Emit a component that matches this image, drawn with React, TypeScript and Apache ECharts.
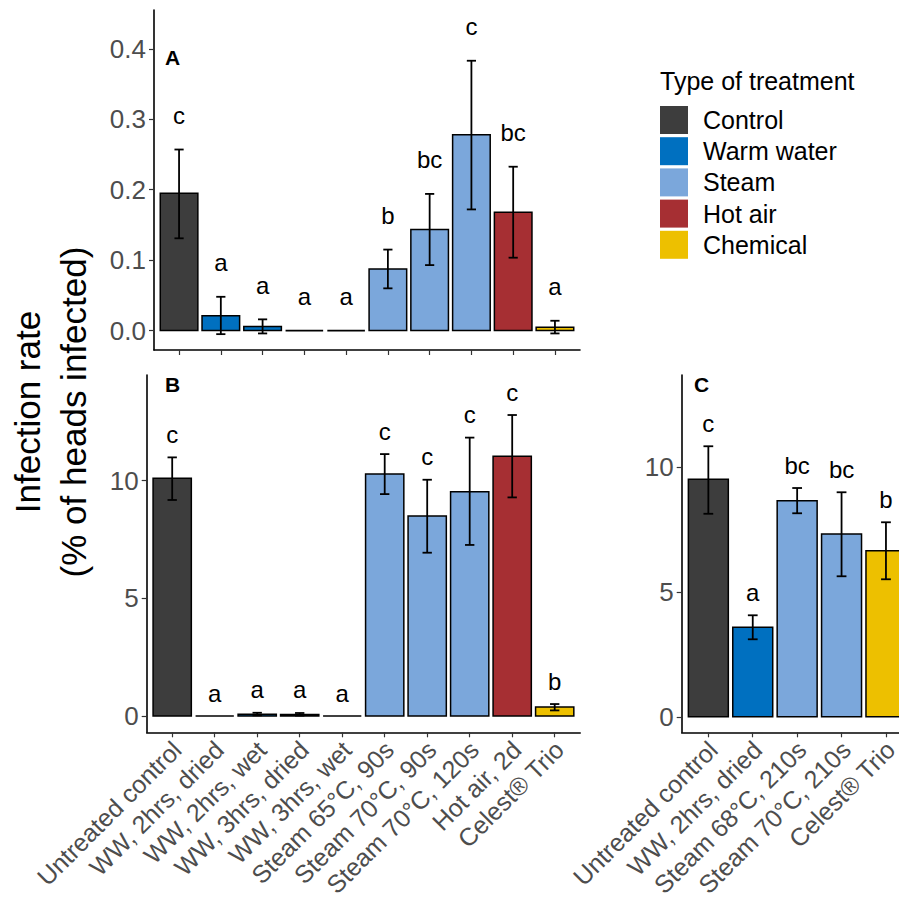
import React, { useEffect, useRef } from "react";
import * as echarts from "echarts";

// ---------- data ----------
const typeNames = ["Control", "Warm water", "Steam", "Hot air", "Chemical"];
const typeColors = ["#3d3d3d", "#0070c0", "#7ba7db", "#a62f33", "#edc000"];

const catsAB = [
  "Untreated control",
  "WW, 2hrs, dried",
  "WW, 2hrs, wet",
  "WW, 3hrs, dried",
  "WW, 3hrs, wet",
  "Steam 65°C, 90s",
  "Steam 70°C, 90s",
  "Steam 70°C, 120s",
  "Hot air, 2d",
  "Celest® Trio",
];
const typesAB = [0, 1, 1, 1, 1, 2, 2, 2, 3, 4];

const aValues = [0.195, 0.021, 0.006, 0, 0, 0.0875, 0.1435, 0.278, 0.168, 0.0047];
const aLower = [0.131, -0.005, -0.004, null, null, 0.06, 0.093, 0.172, 0.1035, -0.004];
const aUpper = [0.257, 0.048, 0.016, null, null, 0.115, 0.194, 0.383, 0.2326, 0.014];
const aLetters = ["c", "a", "a", "a", "a", "b", "bc", "c", "bc", "a"];

const bValues = [10.1, 0, 0.08, 0.07, 0, 10.28, 8.5, 9.53, 11.04, 0.38];
const bLower = [9.18, null, 0.03, 0.02, null, 9.43, 6.94, 7.27, 9.29, 0.24];
const bUpper = [10.99, null, 0.14, 0.13, null, 11.13, 10.04, 11.83, 12.79, 0.51];
const bLetters = ["c", "a", "a", "a", "a", "c", "c", "c", "c", "b"];

const catsC = [
  "Untreated control",
  "WW, 2hrs, dried",
  "Steam 68°C, 210s",
  "Steam 70°C, 210s",
  "Celest® Trio",
];
const typesC = [0, 1, 2, 2, 4];
const cValues = [9.5, 3.58, 8.64, 7.31, 6.64];
const cLower = [8.12, 3.1, 8.14, 5.62, 5.5];
const cUpper = [10.82, 4.06, 9.15, 8.98, 7.78];
const cLetters = ["c", "a", "bc", "bc", "b"];

const yTicksA = [0, 0.1, 0.2, 0.3, 0.4];
const yTicksBC = [0, 5, 10];

const FONT = '"Liberation Sans", Arial, Helvetica, sans-serif';

// ---------- helpers ----------
function barSeries(ax: number, values: number[], types: number[]) {
  return {
    type: "custom",
    xAxisIndex: ax,
    yAxisIndex: ax,
    data: values.map((v, i) => [i, v, types[i]]),
    renderItem: (params: any, api: any) => {
      const i = api.value(0);
      const v = api.value(1);
      const t = api.value(2);
      const p0 = api.coord([i - 0.45, 0]);
      const p1 = api.coord([i + 0.45, v]);
      const h = p0[1] - p1[1];
      if (h < 0.5) {
        return {
          type: "line",
          shape: { x1: p0[0], y1: p0[1], x2: p1[0], y2: p0[1] },
          style: { stroke: "#000", lineWidth: 1.6 },
        };
      }
      return {
        type: "rect",
        shape: { x: p0[0], y: p1[1], width: p1[0] - p0[0], height: h },
        style: { fill: typeColors[t], stroke: "#000", lineWidth: 1.5 },
      };
    },
  };
}

function errSeries(
  ax: number,
  values: number[],
  lower: (number | null)[],
  upper: (number | null)[],
  letters: string[],
  offset: number
) {
  return {
    type: "custom",
    xAxisIndex: ax,
    yAxisIndex: ax,
    data: values.map((v, i) => [
      i,
      lower[i] == null ? v : lower[i],
      upper[i] == null ? v : upper[i],
      lower[i] == null ? 0 : 1,
    ]),
    renderItem: (params: any, api: any) => {
      const i = api.value(0);
      const lo = api.value(1);
      const hi = api.value(2);
      const has = api.value(3);
      const top = api.coord([i, hi]);
      const bot = api.coord([i, lo]);
      const hw = api.size([0.11, 0])[0];
      const children: any[] = [];
      if (has) {
        const st = { stroke: "#000", lineWidth: 1.8 };
        children.push({ type: "line", shape: { x1: top[0], y1: top[1], x2: bot[0], y2: bot[1] }, style: st });
        children.push({ type: "line", shape: { x1: top[0] - hw, y1: top[1], x2: top[0] + hw, y2: top[1] }, style: st });
        children.push({ type: "line", shape: { x1: bot[0] - hw, y1: bot[1], x2: bot[0] + hw, y2: bot[1] }, style: st });
      }
      children.push({
        type: "text",
        x: top[0],
        y: top[1] - offset,
        style: {
          text: letters[params.dataIndex],
          fill: "#000",
          fontSize: 24,
          fontFamily: FONT,
          textAlign: "center",
          align: "center",
          textVerticalAlign: "middle",
          verticalAlign: "middle",
        },
      });
      return { type: "group", children };
    },
  };
}

function xAxis(grid: number, cats: string[], showLabels: boolean) {
  const idx = cats.map((_, i) => i);
  return {
    type: "value",
    gridIndex: grid,
    min: -0.6,
    max: cats.length - 1 + 0.6,
    splitLine: { show: false },
    axisLine: { show: true, onZero: false, lineStyle: { color: "#000", width: 1.6 } },
    axisTick: { show: true, length: 5, customValues: idx, lineStyle: { color: "#333", width: 1.2 } },
    axisLabel: {
      show: showLabels,
      customValues: idx,
      rotate: 45,
      margin: 0,
      align: "right",
      verticalAlign: "top",
      padding: [0, 6, 0, 0],
      color: "#4d4d4d",
      fontSize: 25,
      fontFamily: FONT,
      formatter: (v: number) => cats[Math.round(v)] ?? "",
    },
  };
}

function yAxis(grid: number, min: number, max: number, ticks: number[], digits: number) {
  return {
    type: "value",
    gridIndex: grid,
    min,
    max,
    splitLine: { show: false },
    axisLine: { show: true, onZero: false, lineStyle: { color: "#000", width: 1.6 } },
    axisTick: { show: true, length: 5, customValues: ticks, lineStyle: { color: "#333", width: 1.2 } },
    axisLabel: {
      customValues: ticks,
      margin: 8,
      color: "#4d4d4d",
      fontSize: 26,
      fontFamily: FONT,
      formatter: (v: number) => v.toFixed(digits),
    },
  };
}

export default function App() {
  const ref = useRef<HTMLDivElement>(null);

  useEffect(() => {
    if (!ref.current) return;
    const chart = echarts.init(ref.current, undefined, { renderer: "svg" });

    const legendEls: any[] = [
      {
        type: "text",
        x: 660,
        y: 81,
        style: {
          text: "Type of treatment",
          fill: "#000",
          fontSize: 25,
          fontFamily: FONT,
          textAlign: "left",
          textVerticalAlign: "middle",
        },
      },
    ];
    typeNames.forEach((n, k) => {
      legendEls.push({
        type: "rect",
        shape: { x: 660, y: 106 + k * 31.2, width: 28, height: 28 },
        style: { fill: typeColors[k] },
      });
      legendEls.push({
        type: "text",
        x: 703,
        y: 120 + k * 31.2,
        style: {
          text: n,
          fill: "#000",
          fontSize: 25,
          fontFamily: FONT,
          textAlign: "left",
          textVerticalAlign: "middle",
        },
      });
    });

    const tag = (t: string, x: number, y: number) => ({
      type: "text",
      x,
      y,
      style: {
        text: t,
        fill: "#000",
        fontSize: 21,
        fontWeight: "bold",
        fontFamily: FONT,
        textAlign: "left",
        textVerticalAlign: "middle",
      },
    });

    chart.setOption({
      animation: false,
      backgroundColor: "#fff",
      grid: [
        { left: 154, top: 10, width: 426, height: 340, outerBoundsMode: "none" },
        { left: 146.7, top: 375, width: 433.5, height: 357.3, outerBoundsMode: "none" },
        { left: 681.7, top: 375, width: 230.9, height: 357.3, outerBoundsMode: "none" },
      ],
      xAxis: [xAxis(0, catsAB, false), xAxis(1, catsAB, true), xAxis(2, catsC, true)],
      yAxis: [
        yAxis(0, -0.0275, 0.455, yTicksA, 1),
        yAxis(1, -0.69, 14.49, yTicksBC, 0),
        yAxis(2, -0.62, 13.67, yTicksBC, 0),
      ],
      series: [
        barSeries(0, aValues, typesAB),
        errSeries(0, aValues, aLower, aUpper, aLetters, 34),
        barSeries(1, bValues, typesAB),
        errSeries(1, bValues, bLower, bUpper, bLetters, 23),
        barSeries(2, cValues, typesC),
        errSeries(2, cValues, cLower, cUpper, cLetters, 23),
      ],
      graphic: [
        {
          type: "text",
          x: 50,
          y: 412,
          rotation: Math.PI / 2,
          style: {
            text: "Infection rate\n(% of heads infected)",
            fill: "#000",
            fontSize: 35,
            lineHeight: 46,
            fontFamily: FONT,
            textAlign: "center",
            textVerticalAlign: "middle",
          },
        },
        tag("A", 165, 57),
        tag("B", 165, 384),
        tag("C", 694, 384.5),
        ...legendEls,
      ],
    });

    return () => chart.dispose();
  }, []);

  return (
    <div
      ref={ref}
      style={{ position: "fixed", left: 0, top: 0, width: 899, height: 899, background: "#fff" }}
    />
  );
}
